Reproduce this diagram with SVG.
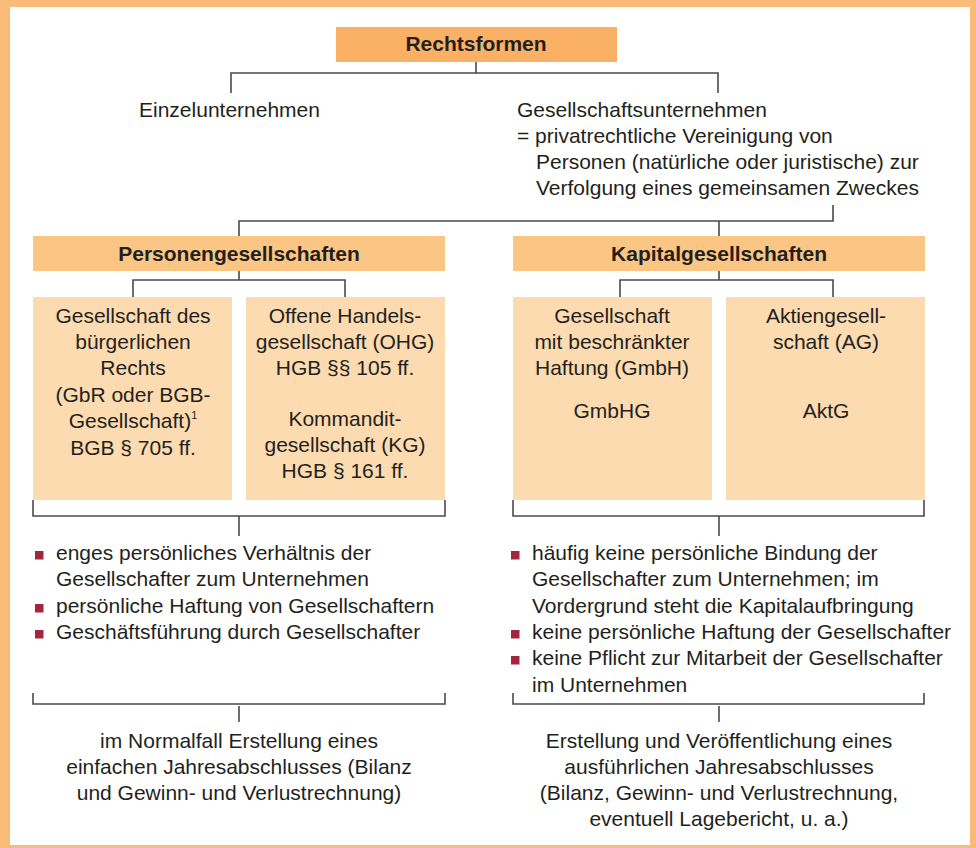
<svg xmlns="http://www.w3.org/2000/svg" width="976" height="848" viewBox="0 0 976 848">
<style>
text{font-family:"Liberation Sans",Arial,Helvetica,sans-serif;font-size:21px;fill:#231f20}
.b{font-weight:bold}
.c{text-anchor:middle}
.ln{fill:none;stroke:#4a4a4a;stroke-width:1.6}
.hd{fill:#fbc584}
.sb{fill:#fddbb0}
.bl{fill:#a3263f}
</style>
<rect x="0" y="0" width="976" height="848" fill="#fbbb78"/>
<rect x="10" y="7" width="960" height="838" fill="#ffffff"/>
<g id="connectors" class="ln">
<path d="M476 62V73M231 93V73H718V93"/>
<path d="M833 205V221H239V236M719 221V236"/>
<path d="M239 271V280M133 297V280H345V297"/>
<path d="M719 271V280M620 297V280H833V297"/>
<path d="M33 500V516H445V500M239 516V536"/>
<path d="M513 500V516H924V500M719 516V536"/>
<path d="M33 693V704H445V693M239 706V722"/>
<path d="M513 693V704H924V693M719 706V722"/>
</g>
<g id="rechtsformen">
<rect x="336" y="27" width="281" height="35" fill="#fab165"/>
<text class="b c" x="476" y="51">Rechtsformen</text>
</g>
<g id="einzelunternehmen">
<text x="139" y="117">Einzelunternehmen</text>
</g>
<g id="gesellschaftsunternehmen">
<text x="517" y="117">Gesellschaftsunternehmen</text>
<text x="517" y="143">= privatrechtliche Vereinigung von</text>
<text x="536" y="169">Personen (natürliche oder juristische) zur</text>
<text x="536" y="195">Verfolgung eines gemeinsamen Zweckes</text>
</g>
<g id="personengesellschaften">
<rect class="hd" x="33" y="236" width="412" height="35"/>
<text class="b c" x="239" y="261">Personengesellschaften</text>
</g>
<g id="kapitalgesellschaften">
<rect class="hd" x="513" y="236" width="412" height="35"/>
<text class="b c" x="719" y="261">Kapitalgesellschaften</text>
</g>
<g id="gbr">
<rect class="sb" x="33" y="297" width="199" height="203"/>
<text class="c" x="133" y="323">Gesellschaft des</text>
<text class="c" x="133" y="349">bürgerlichen</text>
<text class="c" x="133" y="375">Rechts</text>
<text class="c" x="133" y="402">(GbR oder BGB-</text>
<text class="c" x="133" y="428">Gesellschaft)<tspan font-size="11" dy="-9">1</tspan></text>
<text class="c" x="133" y="455">BGB § 705 ff.</text>
</g>
<g id="ohg-kg">
<rect class="sb" x="246" y="297" width="199" height="203"/>
<text class="c" x="345" y="323">Offene Handels-</text>
<text class="c" x="345" y="349">gesellschaft (OHG)</text>
<text class="c" x="345" y="375">HGB §§ 105 ff.</text>
<text class="c" x="345" y="426">Kommandit-</text>
<text class="c" x="345" y="452">gesellschaft (KG)</text>
<text class="c" x="345" y="478">HGB § 161 ff.</text>
</g>
<g id="gmbh">
<rect class="sb" x="513" y="297" width="199" height="203"/>
<text class="c" x="612" y="323">Gesellschaft</text>
<text class="c" x="612" y="349">mit beschränkter</text>
<text class="c" x="612" y="375">Haftung (GmbH)</text>
<text class="c" x="612" y="418">GmbHG</text>
</g>
<g id="ag">
<rect class="sb" x="726" y="297" width="199" height="203"/>
<text class="c" x="826" y="323">Aktiengesell-</text>
<text class="c" x="826" y="349">schaft (AG)</text>
<text class="c" x="826" y="418">AktG</text>
</g>
<g id="merkmale-personen">
<rect class="bl" x="35" y="551" width="8.5" height="8.5"/>
<rect class="bl" x="35" y="604" width="8.5" height="8.5"/>
<rect class="bl" x="35" y="630" width="8.5" height="8.5"/>
<text x="56" y="560">enges persönliches Verhältnis der</text>
<text x="56" y="586">Gesellschafter zum Unternehmen</text>
<text x="56" y="613">persönliche Haftung von Gesellschaftern</text>
<text x="56" y="639">Geschäftsführung durch Gesellschafter</text>
</g>
<g id="merkmale-kapital">
<rect class="bl" x="511" y="551" width="8.5" height="8.5"/>
<rect class="bl" x="511" y="630" width="8.5" height="8.5"/>
<rect class="bl" x="511" y="656" width="8.5" height="8.5"/>
<text x="532" y="560">häufig keine persönliche Bindung der</text>
<text x="532" y="586">Gesellschafter zum Unternehmen; im</text>
<text x="532" y="613">Vordergrund steht die Kapitalaufbringung</text>
<text x="532" y="639">keine persönliche Haftung der Gesellschafter</text>
<text x="532" y="665">keine Pflicht zur Mitarbeit der Gesellschafter</text>
<text x="532" y="692">im Unternehmen</text>
</g>
<g id="abschluss-personen">
<text class="c" x="239" y="748">im Normalfall Erstellung eines</text>
<text class="c" x="239" y="774">einfachen Jahresabschlusses (Bilanz</text>
<text class="c" x="239" y="800">und Gewinn- und Verlustrechnung)</text>
</g>
<g id="abschluss-kapital">
<text class="c" x="719" y="748">Erstellung und Veröffentlichung eines</text>
<text class="c" x="719" y="774">ausführlichen Jahresabschlusses</text>
<text class="c" x="719" y="800">(Bilanz, Gewinn- und Verlustrechnung,</text>
<text class="c" x="719" y="826">eventuell Lagebericht, u. a.)</text>
</g>
</svg>
